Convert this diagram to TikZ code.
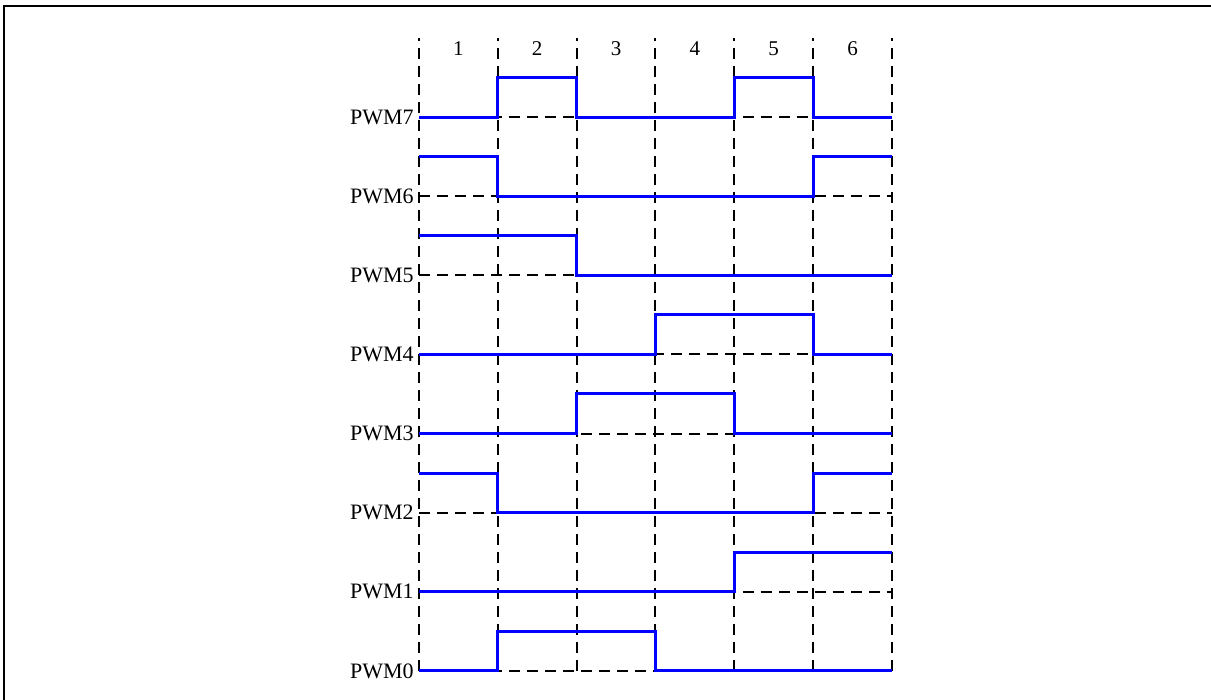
\documentclass[tikz,border=0pt]{standalone}
\usepackage{fontspec}
\setmainfont{Liberation Serif}
\usetikzlibrary{positioning}

\tikzset{
  grid line/.style={black, line width=1pt, dash pattern=on 5.5pt off 3.5pt},
  signal/.style={blue, line width=1.5pt, line join=miter},
  sig label/.style={left, inner sep=2.5pt, font=\fontsize{11}{13}\selectfont},
  slot label/.style={inner sep=0pt, font=\fontsize{10.5}{12}\selectfont},
}

\begin{document}
\begin{tikzpicture}[x=39.42pt, y=39.57pt]
    \useasboundingbox (-5.315,-0.366) rectangle (10.047,8.479);
    % frame
    \draw[line width=1.25pt] (-5.265,-0.366) -- (-5.265,8.403) -- (10.047,8.403);
    % time slots
    \foreach \i in {0,...,6}
        \draw[grid line] (\i,0) -- (\i,8);
    \foreach \i in {1,...,6}
        \node[slot label] (slot\i) at (\i-0.5,7.86) {\i};
    % signals
    \foreach \sig/\bits [count=\k from 0] in {
        PWM0/{0,1,1,0,0,0}, PWM1/{0,0,0,0,1,1},
        PWM2/{1,0,0,0,0,1}, PWM3/{0,0,1,1,0,0},
        PWM4/{0,0,0,1,1,0}, PWM5/{1,1,0,0,0,0},
        PWM6/{1,0,0,0,0,1}, PWM7/{0,1,0,0,1,0}} {
        \draw[grid line] (0,\k) -- (6,\k);
        \node[sig label] (lbl\k) at (0,\k) {\sig};
        \pgfmathsetmacro\first{{\bits}[0]}
        \draw[signal] (0,\k+\first/2)
            \foreach \b [count=\i from 0] in \bits {-- (\i,\k+\b/2) -- ++(1,0)};
    }
\end{tikzpicture}
\end{document}
